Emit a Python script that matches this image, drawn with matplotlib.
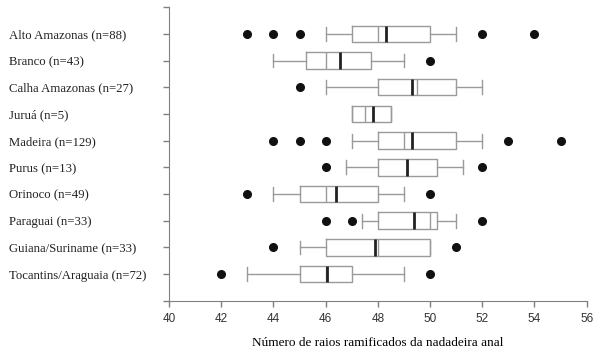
import matplotlib
matplotlib.use("Agg")
import matplotlib.pyplot as plt

# Basins and box statistics
basins = ["Alto Amazonas (n=88)", "Branco (n=43)", "Calha Amazonas (n=27)",
          "Juruá (n=5)", "Madeira (n=129)", "Purus (n=13)", "Orinoco (n=49)",
          "Paraguai (n=33)", "Guiana/Suriname (n=33)", "Tocantins/Araguaia (n=72)"]
whis_low = [46, 44, 46, 47, 47, 46.8, 44, 47.4, 45, 43]
q1 = [47, 45.25, 48, 47, 48, 48, 45, 48, 46, 45]
median = [48, 46, 49.5, 47.5, 49, 49.1, 46, 50, 48, 46]
mean = [48.3, 46.55, 49.3, 47.8, 49.3, 49.1, 46.4, 49.4, 47.9, 46.05]
q3 = [50, 47.75, 51, 48.5, 51, 50.25, 48, 50.25, 50, 47]
whis_high = [51, 49, 52, 48.5, 52, 51.25, 49, 51, 50, 49]
outliers = [[43, 44, 45, 52, 54], [50], [45], [], [44, 45, 46, 53, 55],
            [46, 52], [43, 50], [46, 47, 52], [44, 51], [42, 50]]

x_ticks = [40, 42, 44, 46, 48, 50, 52, 54, 56]

stats = []
for i in range(len(basins)):
    stats.append({"whislo": whis_low[i], "q1": q1[i], "med": median[i],
                  "mean": mean[i], "q3": q3[i], "whishi": whis_high[i],
                  "fliers": outliers[i]})

fig = plt.figure(figsize=(5.95, 3.54), dpi=100)
ax = fig.add_axes([0.284, 0.150, 0.702, 0.830])

grey = "#9a9a9a"
ax.bxp(stats, positions=range(1, len(basins) + 1), orientation="horizontal",
       widths=0.62, capwidths=0.52, showmeans=True, meanline=True,
       boxprops=dict(color=grey, linewidth=1.0),
       whiskerprops=dict(color=grey, linewidth=1.0),
       capprops=dict(color=grey, linewidth=1.0),
       medianprops=dict(color=grey, linewidth=1.0),
       meanprops=dict(color="#222222", linewidth=2.0, linestyle="-"),
       flierprops=dict(marker="o", markerfacecolor="#111111",
                       markeredgecolor="#111111", markersize=5.5))

ax.set_xlim(40, 56)
ax.set_ylim(11, 0)
ax.set_xticks(x_ticks)
ax.set_xticklabels([str(t) for t in x_ticks], fontfamily="Liberation Sans", fontsize=8.5)
ax.set_yticks(range(0, 12))
ax.set_yticklabels([""] + basins + [""], fontfamily="Liberation Serif", fontsize=9.2)
for lab in ax.get_yticklabels():
    lab.set_horizontalalignment("left")
ax.set_xlabel("Número de raios ramificados da nadadeira anal",
              fontfamily="Liberation Serif", fontsize=9.5, labelpad=8)

for side in ["top", "right"]:
    ax.spines[side].set_visible(False)
for side in ["left", "bottom"]:
    ax.spines[side].set_color("#808080")
ax.tick_params(colors="#808080", length=4, width=1.0)
ax.tick_params(axis="x", labelcolor="#333333", pad=5)
ax.tick_params(axis="y", labelcolor="#222222", pad=111)

fig.savefig("out.png", dpi=100)
